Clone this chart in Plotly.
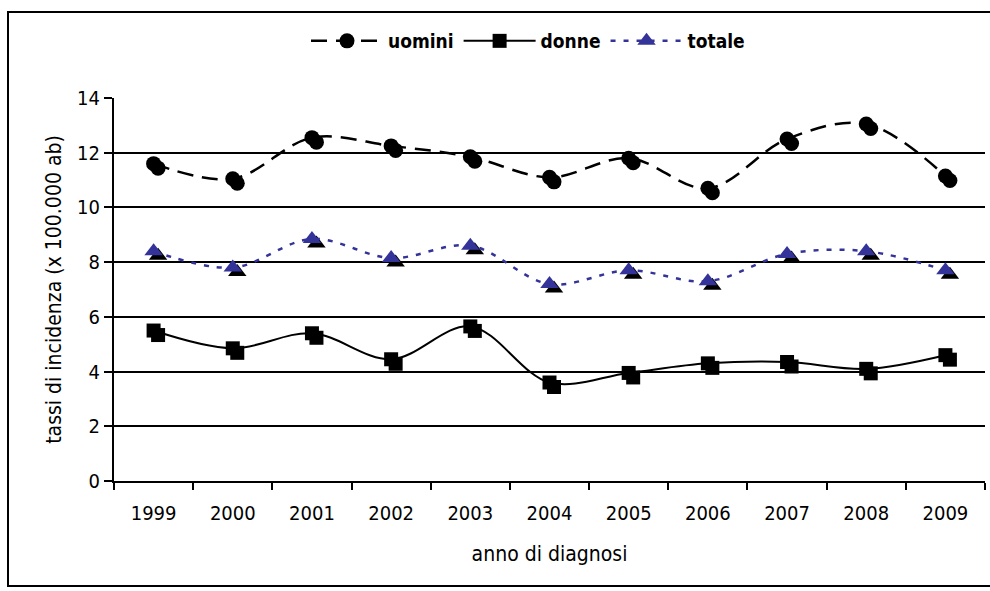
import plotly.graph_objects as go

years = ["1999", "2000", "2001", "2002", "2003", "2004", "2005", "2006", "2007", "2008", "2009"]
uomini = [11.6, 11.05, 12.55, 12.25, 11.85, 11.1, 11.8, 10.7, 12.5, 13.05, 11.15]
donne = [5.5, 4.85, 5.4, 4.45, 5.65, 3.6, 3.95, 4.3, 4.35, 4.1, 4.6]
totale = [8.4, 7.8, 8.85, 8.15, 8.6, 7.2, 7.7, 7.3, 8.3, 8.4, 7.7]

W, H = 990, 591
L, R, T, B = 114, 5, 98, 110
pw, ph = W - L - R, H - T - B
xr = [-0.5, len(years) - 0.5]
yr = [0, 14]

# shadow offset in pixels -> data units
sdx = 4.5 * (xr[1] - xr[0]) / pw
sdy = 4.5 * (yr[1] - yr[0]) / ph

xs = list(range(len(years)))
font = "DejaVu Sans Condensed, DejaVu Sans, sans-serif"
blue = "#333399"

fig = go.Figure()

series = [
    ("uomini", uomini, dict(color="black", width=2.5, dash="16px,9px"), dict(symbol="circle", size=15, color="black")),
    ("donne", donne, dict(color="black", width=2, dash="solid"), dict(symbol="square", size=14, color="black")),
    ("totale", totale, dict(color=blue, width=2.5, dash="5px,8px"), dict(symbol="triangle-up", size=16, color=blue)),
]

for name, vals, line, marker in series:
    fig.add_trace(go.Scatter(
        x=[x + sdx for x in xs], y=[v - sdy for v in vals], mode="markers",
        marker=dict(symbol=marker["symbol"], size=marker["size"], color="black", line=dict(width=0)),
        showlegend=False, hoverinfo="skip"))

for name, vals, line, marker in series:
    fig.add_trace(go.Scatter(
        x=xs, y=vals, name=name, mode="lines+markers",
        line=dict(shape="spline", smoothing=1.0, **line),
        marker=dict(line=dict(width=0), **marker)))

def px_x(p):
    return (p - L) / pw

def px_y(p):
    return (H - B - p) / ph

fig.add_shape(type="rect", xref="paper", yref="paper",
              x0=px_x(8), x1=px_x(996), y0=px_y(586), y1=px_y(12),
              line=dict(color="black", width=2), fillcolor="rgba(0,0,0,0)", layer="below")

fig.update_layout(
    width=W, height=H, autosize=False,
    margin=dict(l=L, r=R, t=T, b=B, pad=0),
    paper_bgcolor="white", plot_bgcolor="white",
    font=dict(family=font, size=20, color="black"),
    showlegend=True,
    legend=dict(orientation="h", x=px_x(528), y=px_y(41), xanchor="center", yanchor="middle",
                font=dict(family=font, size=19, color="black", weight="bold"),
                itemwidth=72, bgcolor="rgba(0,0,0,0)", tracegroupgap=0),
    xaxis=dict(range=xr, tickmode="array", tickvals=xs, ticktext=years, ticks="",
               showline=True, linecolor="black", linewidth=2, showgrid=False, zeroline=False,
               minor=dict(tickmode="array", tickvals=[i - 0.5 for i in range(len(years) + 1)],
                          ticks="outside", ticklen=7, tickwidth=2, tickcolor="black", showgrid=False),
               title=dict(text="anno di diagnosi", font=dict(size=21), standoff=22),
               tickfont=dict(size=20), ticklabelstandoff=13),
    yaxis=dict(range=yr, tickmode="linear", tick0=0, dtick=2, ticks="outside", ticklen=8,
               tickwidth=2, tickcolor="black", showline=True, linecolor="black", linewidth=2,
               showgrid=True, gridcolor="black", gridwidth=2, zeroline=False,
               title=dict(text="tassi di incidenza (x 100.000 ab)", font=dict(size=21), standoff=10),
               tickfont=dict(size=20)),
)

fig.write_html("out.html", config={"displayModeBar": False},
               post_script="document.body.style.margin='0';")
